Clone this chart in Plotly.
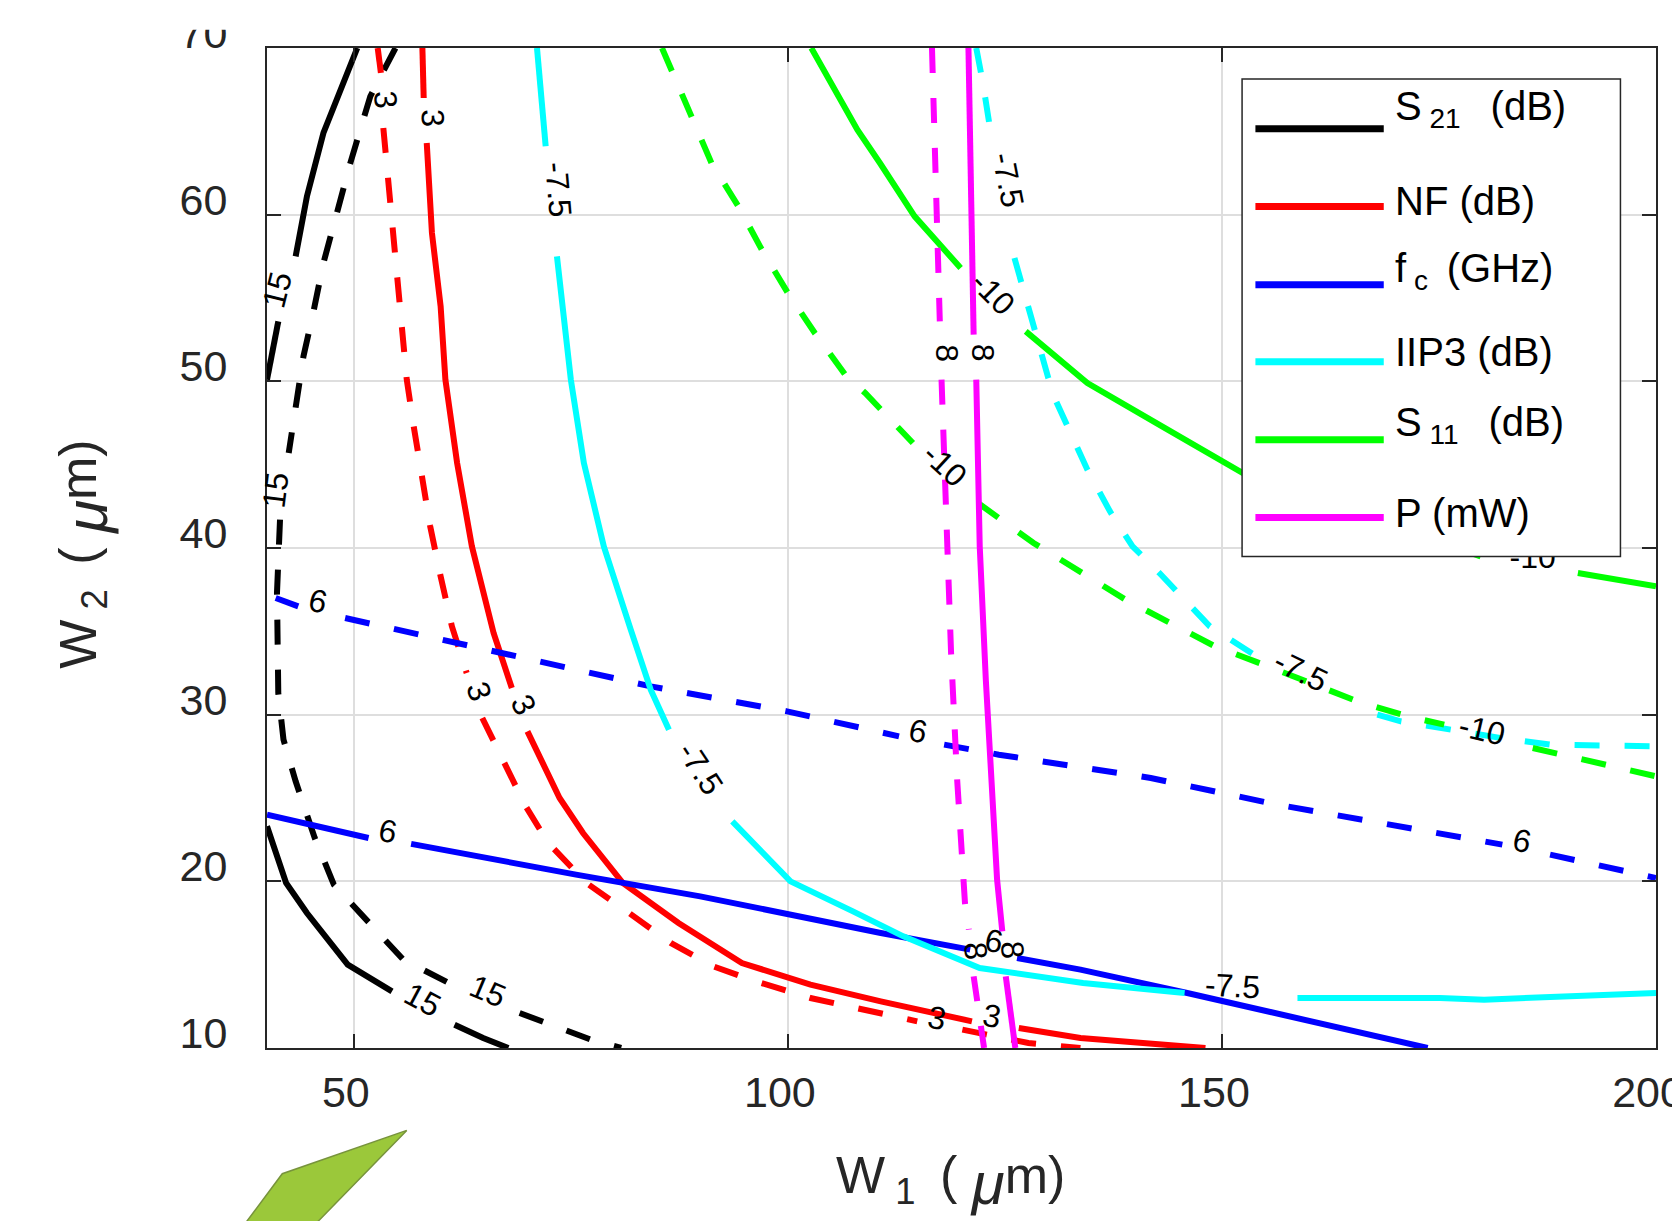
import plotly.graph_objects as go

# ---------------- data ----------------
X_RANGE = [40, 200]
Y_RANGE = [10, 70]
x_tickvals = [50, 100, 150, 200]
y_tickvals = [10, 20, 30, 40, 50, 60, 70]

# S21 = 15 dB contour (solid / dashed); None = gap where a label sits
s21_solid_x = [50.4, 46.5, 44.6, 43.3, None, 41.3, 40.0, None,
               40.0, 42.2, 44.6, 49.3, 54.4, None, 61.6, 64.9, 67.8]
s21_solid_y = [70.0, 64.9, 61.1, 57.5, None, 53.6, 50.1, None,
               23.3, 19.9, 18.1, 15.0, 13.4, None, 11.4, 10.6, 10.0]
s21_dash_x = [54.8, 51.9, 49.6, 48.1, 46.5, 45.4, 44.2, 42.5, None,
              41.5, 41.15, 41.3, 41.9, 43.3, 45.5, 47.7, 51.7, 55.7, 60.95, None,
              69.1, 77.3, 80.8]
s21_dash_y = [70.0, 67.1, 63.1, 60.1, 57.1, 54.3, 51.5, 45.7, None,
              41.7, 37.3, 31.3, 28.5, 26.0, 22.6, 19.8, 17.5, 15.3, 13.9, None,
              12.1, 10.5, 10.0]

# NF = 3 dB contour
nf_solid_x = [57.9, 58.05, None, 58.4, 59.0, 60.0, 60.55, 61.9, 63.6, 66.1, 68.2, None,
              70.0, 72.6, 73.7, 76.4, 81.0, 87.4, 94.7, 102.6, 110.7, 121.2, None,
              126.6, 133.7, 148.1]
nf_solid_y = [70.0, 67.0, None, 64.3, 58.9, 54.5, 50.1, 45.1, 40.1, 34.9, 31.6, None,
              29.0, 26.1, 25.0, 22.9, 19.9, 17.5, 15.1, 13.8, 12.8, 11.6, None,
              11.2, 10.6, 10.0]
nf_dash_x = [52.75, 53.25, None, 53.4, 53.9, 54.4, 55.0, 55.7, 56.1, 56.9, 57.9, 58.8,
             60.0, 61.3, 63.0, None, 64.8, 67.1, 69.8, 72.4, 76.8, 81.7, 86.5, 91.4,
             95.7, 102.6, 112.2, 114.9, None, 120.1, 127.7, 133.7]
nf_dash_y = [70.0, 68.0, None, 65.2, 62.5, 59.1, 56.1, 52.9, 50.1, 47.3, 44.3, 41.3,
             38.3, 35.3, 32.5, None, 29.8, 27.3, 24.5, 22.3, 19.9, 18.1, 16.3, 14.9,
             14.1, 13.0, 11.9, 11.6, None, 11.1, 10.3, 10.0]

# fc = 6 GHz contour
fc_solid_x = [40.0, 51.7, None, 56.6, 75.6, 89.9, 100.1, 110.7, 121.0, None,
              126.4, 133.7, 146.0, 173.7]
fc_solid_y = [24.0, 22.6, None, 22.25, 20.4, 19.1, 18.0, 16.9, 15.9, None,
              15.4, 14.7, 13.3, 10.0]
fc_dash_x = [41.0, 43.6, None, 49.0, 70.7, 84.2, 99.9, 112.8, None,
             118.0, 124.3, 141.8, 156.4, 182.3, None, 187.8, 200.0]
fc_dash_y = [37.0, 36.5, None, 35.8, 33.3, 31.7, 30.2, 28.7, None,
             28.2, 27.6, 26.2, 24.6, 22.2, None, 21.6, 20.2]

# IIP3 = -7.5 dB contour
iip3_solid_x = [71.1, 72.1, None, 73.4, 75.0, 76.5, 78.8, 81.9, 84.2, 86.3, None,
                93.6, 100.3, 107.5, 113.3, 122.1, 134.0, 145.7, None,
                158.7, 175.1, 180.2, 200.0]
iip3_solid_y = [70.0, 64.1, None, 57.5, 50.1, 45.1, 40.1, 35.1, 31.5, 29.1, None,
                23.6, 20.0, 18.2, 16.7, 14.8, 13.9, 13.3, None,
                13.0, 13.0, 12.9, 13.3]
iip3_dash_x = [121.7, 122.5, 123.4, None, 126.1, 127.6, 130.0, 130.9, 134.5, 137.1,
               139.7, 142.8, 148.6, 153.7, None, 167.9, 170.6, 176.4, 182.1, 187.9, 200.0]
iip3_dash_y = [70.0, 67.8, 64.8, None, 57.4, 54.5, 50.2, 48.8, 44.7, 42.2,
               40.1, 38.5, 35.3, 33.6, None, 30.0, 29.6, 29.1, 28.6, 28.2, 28.1]

# S11 = -10 dB contour
s11_solid_x = [102.7, 108.0, 110.6, 114.6, 119.9, None, 127.4, 134.5, 143.1, 152.4,
               179.8, None, 191.0, 200.0]
s11_solid_y = [70.0, 65.1, 63.1, 59.9, 56.8, None, 53.0, 49.9, 47.3, 44.5,
               39.5, None, 38.5, 37.7]
s11_dash_x = [85.5, 88.8, 91.2, 94.3, 97.0, 100.0, 103.1, 106.6, 108.9, 114.4, None,
              121.9, 128.3, 138.9, 149.2, 154.8, 160.2, 165.6, 171.4, 175.6, None,
              185.8, 194.0, 200.0]
s11_dash_y = [70.0, 65.9, 63.1, 60.5, 57.9, 55.3, 52.9, 50.4, 49.3, 46.3, None,
              42.7, 40.3, 36.9, 34.1, 33.0, 31.9, 30.8, 29.9, 29.4, None,
              28.0, 27.0, 26.3]

# P = 8 mW contour
p_solid_x = [120.8, 121.4, None, 121.7, 122.1, 122.8, 123.4, 124.1, 124.7, None, 125.1, 126.2]
p_solid_y = [70.0, 52.8, None, 50.1, 40.1, 32.1, 26.1, 20.1, 17.0, None, 14.3, 10.0]
p_dash_x = [116.6, 117.5, None, 117.7, 118.3, 118.8, 119.5, 120.4, 120.85, None, 121.4, 122.6]
p_dash_y = [70.0, 53.6, None, 50.1, 41.1, 33.7, 26.1, 18.7, 17.1, None, 14.3, 10.0]

# contour labels
label_text = ["15", "15", "15", "15",
              "3", "3", "3", "3", "3", "3",
              "6", "6", "6", "6", "6",
              "-7.5", "-7.5", "-7.5", "-7.5", "-7.5",
              "-10", "-10", "-10",
              "8", "8", "8", "8"]
label_x = [41.15, 40.96, 58.0, 65.4,
           53.7, 59.1, 64.4, 69.6, 117.2, 123.5,
           45.9, 115.0, 184.6, 53.9, 123.7,
           73.6, 89.9, 151.2, 125.4, 159.1,
           123.6, 118.1, 180.0,
           118.3, 122.5, 121.6, 125.9]
label_y = [55.5, 43.5, 12.9, 13.4,
           66.9, 65.8, 31.4, 30.6, 11.8, 11.9,
           36.8, 29.0, 22.4, 23.0, 16.4,
           61.5, 26.8, 13.7, 62.1, 32.6,
           55.3, 45.0, 29.1,
           51.7, 51.7, 15.8, 15.9]
label_angle = [-76, -83, 28, 23,
               86, 88, 71, 63, 10, 10,
               13, 12, 12, 11, 10,
               85, 57, 3, 79, 26,
               45, 43, 13,
               90, 90, 85, 85]
# S11 label partly hidden behind the legend box
hidden_label_text = ["-10"]
hidden_label_x = [185.8]
hidden_label_y = [39.3]

NB = "\u00a0"
legend_names = ["S<sub>" + NB + "21" + NB + "</sub>" + NB + " (dB)", "NF (dB)",
                "f<sub>" + NB + "c" + NB + "</sub>" + NB + "(GHz)",
                "IIP3 (dB)", "S<sub>" + NB + "11" + NB + "</sub>" + NB + " (dB)", "P (mW)"]
legend_colors = ["#000000", "#FF0000", "#0000FF", "#00FFFF", "#00FF00", "#FF00FF"]
legend_text_lift = [0.020, 0.005, 0.014, 0.010, 0.015, 0.004]

# ---------------- figure ----------------
LW = 6
DASH = "25px,25px"
FONT = "Liberation Sans, Arial, Helvetica, sans-serif"
fig = go.Figure()

series = [
    (s21_solid_x, s21_solid_y, "#000000", "solid"),
    (s21_dash_x, s21_dash_y, "#000000", DASH),
    (nf_solid_x, nf_solid_y, "#FF0000", "solid"),
    (nf_dash_x, nf_dash_y, "#FF0000", DASH),
    (fc_solid_x, fc_solid_y, "#0000FF", "solid"),
    (fc_dash_x, fc_dash_y, "#0000FF", DASH),
    (iip3_solid_x, iip3_solid_y, "#00FFFF", "solid"),
    (iip3_dash_x, iip3_dash_y, "#00FFFF", DASH),
    (s11_solid_x, s11_solid_y, "#00FF00", "solid"),
    (s11_dash_x, s11_dash_y, "#00FF00", DASH),
    (p_solid_x, p_solid_y, "#FF00FF", "solid"),
    (p_dash_x, p_dash_y, "#FF00FF", DASH),
]
for xs, ys, col, dash in series:
    fig.add_trace(go.Scatter(x=xs, y=ys, mode="lines", showlegend=False,
                             line=dict(color=col, width=LW, dash=dash),
                             hoverinfo="skip"))

fig.add_trace(go.Scatter(x=hidden_label_x, y=hidden_label_y, mode="text",
                         text=hidden_label_text, showlegend=False,
                         textfont=dict(size=32, color="black", family=FONT),
                         hoverinfo="skip"))

annotations = []
for t, x, y, a in zip(label_text, label_x, label_y, label_angle):
    annotations.append(dict(x=x, y=y, xref="x", yref="y", text=t, showarrow=False,
                            textangle=a, font=dict(size=32, color="black", family=FONT)))

# axis titles
mu = "<sub><span style='font-size:60px'><i>μ</i></span></sub>"
annotations.append(dict(x=0.492, y=-0.133, xref="paper", yref="paper",
                        text="W<sub>" + NB + "1" + NB + "</sub>" + NB + "(" + NB + mu + "m)",
                        showarrow=False, xanchor="center", yanchor="middle",
                        font=dict(size=52, color="#262626", family=FONT)))
annotations.append(dict(x=-0.132, y=0.494, xref="paper", yref="paper",
                        text="W<sub>" + NB + "2" + NB + "</sub>" + NB + "(" + NB + mu + "m)",
                        showarrow=False, xanchor="center", yanchor="middle", textangle=-90,
                        font=dict(size=52, color="#262626", family=FONT)))

# legend (drawn manually to reproduce the long line samples)
leg_x0, leg_x1, leg_y0, leg_y1 = 0.7020, 0.9744, 0.4916, 0.969
shapes = [dict(type="rect", xref="paper", yref="paper", x0=leg_x0, x1=leg_x1,
               y0=leg_y0, y1=leg_y1, fillcolor="white",
               line=dict(color="#262626", width=1.5), layer="above")]
rows = [0.9193, 0.8416, 0.7633, 0.6863, 0.6083, 0.5306]
for name, col, ry, lift in zip(legend_names, legend_colors, rows, legend_text_lift):
    shapes.append(dict(type="line", xref="paper", yref="paper", x0=0.7116, x1=0.8040,
                       y0=ry, y1=ry, line=dict(color=col, width=7), layer="above"))
    annotations.append(dict(x=0.8110, y=ry + lift, xref="paper", yref="paper", text=name,
                            showarrow=False, xanchor="left", yanchor="middle",
                            font=dict(size=40, color="black", family=FONT)))

# white mask that crops the top of the "70" label as in the reference
shapes.append(dict(type="rect", xref="paper", yref="paper", x0=-0.14, x1=-0.006,
                   y0=1.0183, y1=1.08, fillcolor="white", line=dict(width=0),
                   layer="above"))
# green decorative arrow fragment at the bottom-left of the picture
shapes.append(dict(type="path", xref="paper", yref="paper",
                   path="M -0.0235,-0.19 L 0.0110,-0.1257 L 0.1006,-0.0824 L 0.0372,-0.1727 L 0.025,-0.19 Z",
                   fillcolor="#9BC83A", line=dict(color="#77933C", width=1.5),
                   layer="above"))

axis_common = dict(showgrid=True, gridcolor="#dedede", gridwidth=1.5,
                   zeroline=False, showline=True, linecolor="#262626", linewidth=2,
                   mirror="ticks", ticks="inside", ticklen=14, tickwidth=2,
                   tickcolor="#262626", ticklabeloverflow="allow", automargin=False,
                   tickfont=dict(size=43, color="#262626", family=FONT))

fig.update_xaxes(range=X_RANGE, tickvals=x_tickvals, ticklabelstandoff=5,
                 ticklabelshift=-8, **axis_common)
fig.update_yaxes(range=Y_RANGE, tickvals=y_tickvals, ticklabelstandoff=29,
                 ticklabelshift=-15, **axis_common)

fig.update_layout(width=1672, height=1221, autosize=False,
                  margin=dict(l=267, r=16, t=48, b=173, pad=0),
                  paper_bgcolor="white", plot_bgcolor="white",
                  showlegend=False, annotations=annotations, shapes=shapes)

fig.write_html("out.html", config={"displayModeBar": False},
               post_script="document.body.style.margin='0';document.body.style.overflow='hidden';")
